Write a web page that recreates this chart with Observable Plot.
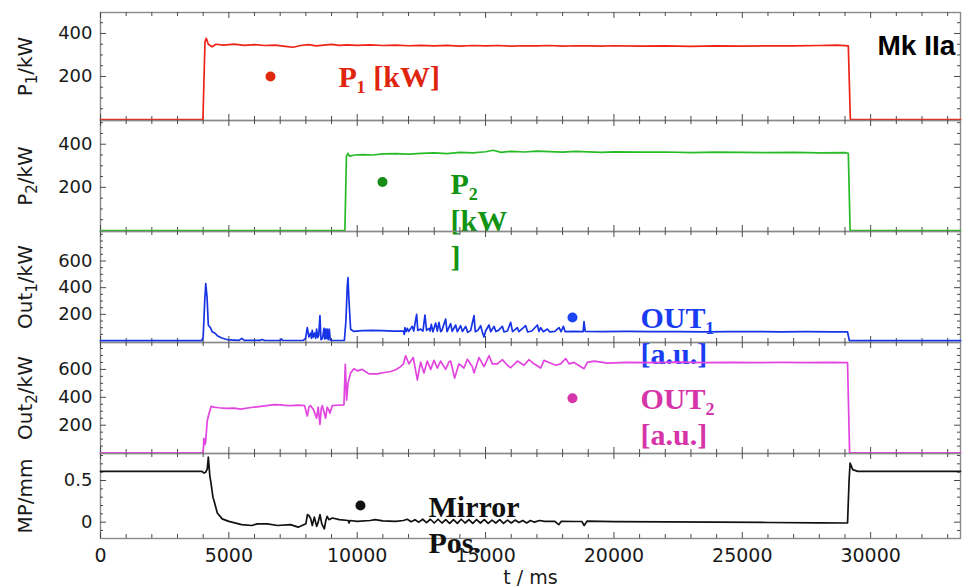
<!DOCTYPE html>
<html>
<head>
<meta charset="utf-8">
<script src="https://cdn.jsdelivr.net/npm/d3@7"></script>
<script src="https://cdn.jsdelivr.net/npm/@observablehq/plot@0.6"></script>
<style>
  html, body { margin: 0; padding: 0; background: #ffffff; }
  #chart { position: relative; width: 963px; height: 587px; overflow: hidden; }
  #chart svg { position: absolute; left: 0; }
</style>
</head>
<body>
<div id="chart"></div>
<script>
// ---------------- DATA ----------------
const xMajor = [0, 5000, 10000, 15000, 20000, 25000, 30000];
const xMinor = [1000, 2000, 3000, 4000, 6000, 7000, 8000, 9000, 11000, 12000, 13000, 14000, 16000, 17000, 18000, 19000, 21000, 22000, 23000, 24000, 26000, 27000, 28000, 29000, 31000, 32000, 33000];

const p1Major = [200, 400];
const p1Minor = [50, 100, 150, 250, 300, 350, 450];
const p2Major = [200, 400];
const p2Minor = [50, 100, 150, 250, 300, 350, 450, 500];
const out1Major = [200, 400, 600];
const out1Minor = [50, 100, 150, 250, 300, 350, 450, 500, 550, 650, 700, 750, 800];
const out2Major = [200, 400, 600];
const out2Minor = [50, 100, 150, 250, 300, 350, 450, 500, 550, 650, 700, 750];
const mpMajor = [0, 0.5];
const mpMinor = [-0.1, 0.1, 0.2, 0.3, 0.4, 0.6, 0.7, 0.8];

// P1 [kW] : [t (ms), value]
const p1 = [[0,0],[3990,0],[4070,360],[4120,378],[4200,350],[4350,338],[4500,350],[4800,346],[5200,350],[5600,345],[6000,348],[6400,344],[6800,346],[7200,340],[7500,336],[7800,344],[8100,348],[8400,342],[8700,346],[9000,349],[9300,345],[9600,347],[10000,345],[10500,347],[11000,344],[11500,346],[12000,343],[12500,345],[13000,342],[13500,345],[14000,341],[14500,344],[15000,342],[15500,344],[16000,341],[16500,343],[17000,342],[17500,344],[18000,341],[18500,343],[19000,342],[19500,341],[20000,343],[21000,341],[22000,342],[23000,340],[24000,342],[25000,341],[26000,343],[27000,342],[28000,344],[28700,346],[29130,342],[29210,0],[33500,0]];

// P2 [kW]
const p2 = [[0,0],[9520,0],[9580,345],[9640,358],[9700,345],[9900,350],[10200,352],[10600,350],[11000,355],[11500,356],[12000,354],[12500,358],[13000,360],[13500,356],[14000,362],[14500,360],[15000,365],[15300,372],[15600,362],[16000,367],[16500,364],[17000,368],[17500,366],[18000,363],[18500,367],[19000,365],[19500,362],[20000,365],[21000,363],[22000,364],[23000,361],[24000,363],[25000,362],[26000,361],[27000,362],[28000,360],[29000,361],[29130,358],[29200,0],[33500,0]];

// OUT1 [a.u.]
const out1 = [[0,3],[3950,3],[4000,30],[4060,300],[4100,430],[4150,330],[4200,120],[4280,100],[4350,70],[4450,60],[4550,40],[4700,25],[4850,15],[5000,8],[5400,5],[5500,20],[5600,5],[6200,5],[6300,12],[6400,4],[7000,4],[7050,15],[7100,4],[7900,4],[7990,20],[8054,100],[8120,30],[8184,60],[8220,20],[8249,80],[8290,30],[8340,60],[8380,20],[8418,90],[8460,25],[8500,40],[8548,190],[8590,10],[8650,20],[8704,95],[8740,15],[8768,90],[8800,20],[8833,90],[8870,10],[8911,90],[8950,8],[9000,4],[9500,5],[9560,150],[9610,400],[9640,475],[9680,300],[9743,88],[9873,72],[10200,78],[10600,80],[11000,78],[11400,75],[11800,74],[11830,50],[11860,100],[11900,70],[11951,95],[12000,72],[12146,110],[12200,75],[12314,200],[12360,80],[12470,90],[12560,75],[12639,195],[12700,80],[12795,95],[12840,75],[12886,125],[12950,70],[13054,135],[13120,75],[13184,140],[13250,70],[13300,80],[13445,165],[13500,70],[13640,130],[13700,72],[13834,120],[13900,70],[14029,115],[14100,72],[14224,110],[14300,65],[14420,80],[14549,190],[14600,70],[14700,80],[14809,115],[14870,70],[14939,30],[15000,75],[15134,120],[15200,70],[15329,110],[15400,72],[15500,80],[15653,110],[15720,68],[15850,75],[15978,140],[16050,70],[16238,100],[16300,70],[16562,115],[16640,68],[16800,75],[17017,120],[17080,72],[17147,100],[17250,70],[17407,90],[17500,68],[17700,72],[17861,100],[17940,70],[18030,110],[18100,70],[18400,72],[18800,70],[18834,145],[18880,72],[19500,70],[20500,72],[21500,70],[22500,71],[23500,69],[24500,70],[25500,71],[26500,69],[27500,70],[28500,69],[29100,68],[29170,3],[33500,3]];

// OUT2 [a.u.]
const out2 = [[0,2],[3980,2],[4001,10],[4027,105],[4060,60],[4092,75],[4157,230],[4222,280],[4313,335],[4417,330],[4600,325],[4900,320],[5200,322],[5456,315],[5800,325],[6100,332],[6400,338],[6755,348],[7000,345],[7200,342],[7404,340],[7700,344],[7950,340],[8054,266],[8120,330],[8184,340],[8300,310],[8418,250],[8480,330],[8548,205],[8600,320],[8639,340],[8700,300],[8768,250],[8833,330],[8890,310],[8937,285],[9028,340],[9200,343],[9483,345],[9535,636],[9587,380],[9639,500],[9743,575],[9873,605],[10003,590],[10198,600],[10320,585],[10457,568],[10782,568],[11050,578],[11301,585],[11500,598],[11691,620],[11800,640],[11886,698],[12016,640],[12185,685],[12341,525],[12470,653],[12600,575],[12730,660],[12860,600],[12990,665],[13119,610],[13249,660],[13379,620],[13445,600],[13574,655],[13640,660],[13796,538],[13965,640],[14159,610],[14289,673],[14484,620],[14549,575],[14744,685],[14939,620],[15134,698],[15264,640],[15459,640],[15653,670],[15848,630],[15978,612],[16238,660],[16497,630],[16692,670],[16887,640],[17147,610],[17277,665],[17472,650],[17732,630],[17927,640],[18121,678],[18251,640],[18446,650],[18836,605],[18966,650],[19226,660],[19745,645],[20500,650],[21500,648],[22500,652],[23500,649],[24500,651],[25500,648],[26500,650],[27500,648],[28500,650],[29100,648],[29180,2],[33500,2]];

// Mirror position [mm]
const mp = [[0,0.61],[3950,0.61],[4030,0.59],[4100,0.6],[4160,0.64],[4200,0.78],[4260,0.55],[4300,0.48],[4380,0.3],[4420,0.26],[4550,0.11],[4740,0.04],[5000,0.01],[5500,-0.03],[5900,-0.04],[6100,-0.02],[6500,-0.02],[6900,-0.04],[7400,-0.03],[7700,-0.06],[8000,-0.02],[8060,0.09],[8120,0.08],[8190,0.04],[8250,-0.04],[8330,0.06],[8420,-0.05],[8480,0.0],[8550,0.09],[8620,-0.02],[8720,-0.08],[8770,0.01],[8830,0.07],[8900,0.03],[9030,0.05],[9300,0.03],[9650,0.02],[9680,-0.01],[9720,0.02],[10000,0.01],[10500,0.02],[10700,0.03],[11000,0.015],[11500,0.01],[11800,0.02],[11950,0.035],[12100,0.005],[12250,0.03],[12400,0.0],[12550,0.035],[12700,-0.005],[12850,0.035],[13000,-0.01],[13150,0.035],[13300,-0.01],[13450,0.03],[13600,-0.015],[13750,0.03],[13900,-0.015],[14050,0.035],[14200,-0.01],[14350,0.03],[14500,-0.015],[14650,0.03],[14800,-0.01],[14950,0.03],[15100,-0.015],[15250,0.025],[15400,-0.01],[15550,0.03],[15700,-0.015],[15850,0.025],[16000,-0.01],[16150,0.025],[16300,-0.005],[16450,0.02],[16600,-0.01],[16750,0.02],[16900,0.0],[17100,0.02],[17300,0.01],[17700,0.01],[17850,-0.03],[17950,0.01],[18500,0.008],[18750,0.008],[18840,-0.04],[18950,0.012],[20000,0.006],[22000,0.003],[24000,0.0],[26000,-0.004],[28000,-0.008],[29100,-0.01],[29160,0.5],[29200,0.71],[29300,0.63],[29500,0.61],[33500,0.61]];

// Annotation markers (dot position) and labels (t, value in each panel's units)
const p1Dot = [[6622, 200]];
const p2Dot = [[10984, 225]];
const out1Dot = [[18385, 176]];
const out2Dot = [[18385, 393]];
const mpDot = [[10127, 0.2]];

const p1Label = [{t: 9271, v: 149, text: "P₁ [kW]"}];
const p2Label = [{t: 13633, v: -170, text: "P₂\n[kW\n]"}];
const out1Label = [{t: 21033, v: -169, text: "OUT₁\n[a.u.]"}];
const out2Label = [{t: 21033, v: 57, text: "OUT₂\n[a.u.]"}];
const mpLabel = [{t: 12776, v: -0.364, text: "Mirror\nPos."}];
const titleLabel = [{t: 30267, v: 298, text: "Mk IIa"}];

// y labels: [base, subscript, rest]
const yLabels = [["P", "1", "/kW"], ["P", "2", "/kW"], ["Out", "1", "/kW"], ["Out", "2", "/kW"], ["MP/mm", "", ""]];
const xLabel = "t / ms";

// ---------------- LAYOUT ----------------
const W = 963, ML = 100, MR = 3;
const innerW = W - ML - MR;
const tickColor = "#4a4a4a";

const panels = [
  {top: 12,  h: 108, domain: [-4.7, 497.5], data: p1,   color: "#ee2416", major: p1Major,   minor: p1Minor,   label: yLabels[0],
   dot: p1Dot, dotColor: "#e0280f", ann: p1Label, annColor: "#e0250f", lh: 1.2},
  {top: 120, h: 111, domain: [-4.6, 510],   data: p2,   color: "#27bb27", major: p2Major,   minor: p2Minor,   label: yLabels[1],
   dot: p2Dot, dotColor: "#178a17", ann: p2Label, annColor: "#129412", lh: 1.22},
  {top: 231, h: 111, domain: [-11, 821],    data: out1, color: "#1733e6", major: out1Major, minor: out1Minor, label: yLabels[2],
   dot: out1Dot, dotColor: "#1a45f0", ann: out1Label, annColor: "#1a3cf2", lh: 1.17},
  {top: 342, h: 111, domain: [-3, 793],     data: out2, color: "#e244e0", major: out2Major, minor: out2Minor, label: yLabels[3],
   dot: out2Dot, dotColor: "#d535a8", ann: out2Label, annColor: "#d535a8", lh: 1.22},
  {top: 453, h: 85,  domain: [-0.196, 0.824], data: mp, color: "#111111", major: mpMajor,  minor: mpMinor,   label: yLabels[4],
   dot: mpDot, dotColor: "#111111", ann: mpLabel, annColor: "#111111", lh: 1.17, last: true}
];

const chart = document.getElementById("chart");

panels.forEach((p, i) => {
  const H = p.h;
  const mb = p.last ? 49 : 0;
  const fullLabel = p.label.join("");
  const marks = [
    Plot.frame({stroke: "#8a8a8a", strokeWidth: 1.4}),
    // inward ticks: bottom & top (x), left & right (y)
    Plot.tickX(xMajor, {x: d => d, insetTop: H - 6, stroke: tickColor}),
    Plot.tickX(xMajor, {x: d => d, insetBottom: H - 6, stroke: tickColor}),
    Plot.tickX(xMinor, {x: d => d, insetTop: H - 4, stroke: tickColor}),
    Plot.tickX(xMinor, {x: d => d, insetBottom: H - 4, stroke: tickColor}),
    Plot.tickY(p.major, {y: d => d, insetRight: innerW - 6, stroke: tickColor}),
    Plot.tickY(p.major, {y: d => d, insetLeft: innerW - 6, stroke: tickColor}),
    Plot.tickY(p.minor, {y: d => d, insetRight: innerW - 3, stroke: tickColor}),
    Plot.tickY(p.minor, {y: d => d, insetLeft: innerW - 3, stroke: tickColor}),
    Plot.axisY({ticks: p.major, tickSize: 0, tickPadding: 8, tickFormat: d => String(d), label: fullLabel, labelAnchor: "center", labelOffset: 83, labelArrow: "none", fontSize: 18}),
    Plot.line(p.data, {x: d => d[0], y: d => d[1], stroke: p.color, strokeWidth: 1.7, strokeLinejoin: "round"}),
    Plot.dot(p.dot, {x: d => d[0], y: d => d[1], r: 5, fill: p.dotColor, stroke: "none"}),
    Plot.text(p.ann, {x: "t", y: "v", text: "text", textAnchor: "start", lineAnchor: "bottom", lineHeight: p.lh,
      fontFamily: "Liberation Serif, Times New Roman, serif", fontWeight: "bold", fontSize: 30, fill: p.annColor})
  ];
  if (i === 0) {
    marks.push(Plot.text(titleLabel, {x: "t", y: "v", text: "text", textAnchor: "start", lineAnchor: "bottom",
      fontFamily: "Liberation Sans, Arial, sans-serif", fontWeight: "bold", fontSize: 28, fill: "#000"}));
  }
  if (p.last) {
    marks.push(Plot.axisX({ticks: xMajor, tickSize: 0, tickPadding: 10, tickFormat: d3.format("d"),
      label: xLabel, labelAnchor: "center", labelOffset: 45, labelArrow: "none", fontSize: 19}));
  }
  const svg = Plot.plot({
    width: W,
    height: H + mb,
    marginLeft: ML,
    marginRight: MR,
    marginTop: 0,
    marginBottom: mb,
    x: {domain: [0, 33500], axis: p.last ? undefined : null},
    y: {domain: p.domain},
    style: {overflow: "visible", background: "transparent", fontFamily: "DejaVu Sans, sans-serif", fontSize: "18px", color: "#1a1a1a"},
    marks
  });
  // real subscripts in the y-axis label
  if (p.label[1]) {
    d3.select(svg).selectAll("text").filter(function() { return this.textContent === fullLabel; }).each(function() {
      const t = d3.select(this);
      t.attr("font-size", 20).text(null);
      t.append("tspan").text(p.label[0]);
      t.append("tspan").attr("font-size", 15).attr("dy", 5).text(p.label[1]);
      t.append("tspan").attr("dy", -5).text(p.label[2]);
    });
  } else {
    d3.select(svg).selectAll("text").filter(function() { return this.textContent === fullLabel; }).attr("font-size", 20);
  }
  svg.style.top = p.top + "px";
  svg.style.overflow = "visible";
  chart.appendChild(svg);
});
</script>
</body>
</html>
